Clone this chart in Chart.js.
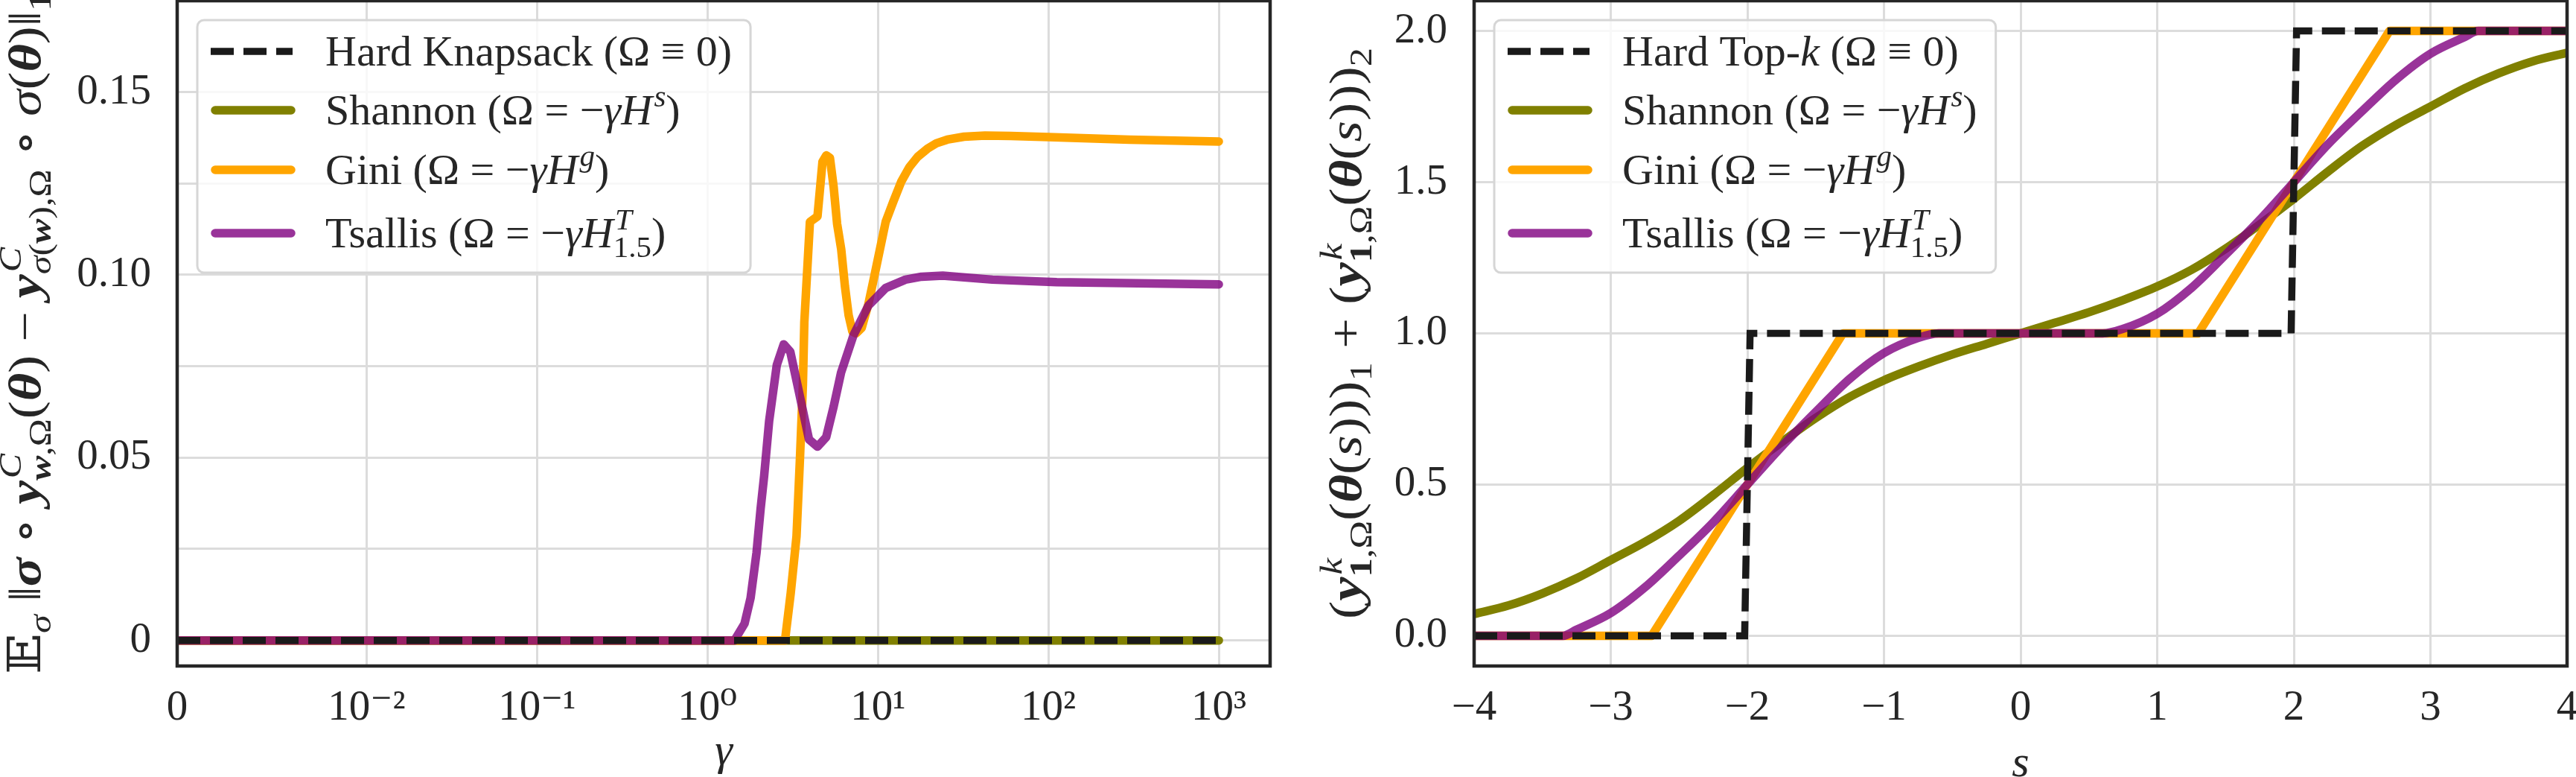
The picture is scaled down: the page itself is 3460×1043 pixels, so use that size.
<!DOCTYPE html>
<html>
<head>
<meta charset="utf-8">
<script src="https://cdn.jsdelivr.net/npm/chart.js@4.4.1/dist/chart.umd.min.js"></script>
<style>
html,body{margin:0;padding:0;background:#fff;width:3460px;height:1043px;overflow:hidden}
#wrap{position:relative;width:3460px;height:1043px;background:#fff}
canvas{position:absolute;top:0}
#cL{left:0;width:1720px;height:1043px}
#cR{left:1720px;width:1740px;height:1043px}
</style>
</head>
<body>
<div id="wrap">
<canvas id="cL" width="1720" height="1043"></canvas>
<canvas id="cR" width="1740" height="1043"></canvas>
</div>
<script>
// ================= DATA =================
// Left panel: symlog gamma axis
const gammaTicks = [0, 0.01, 0.1, 1, 10, 100, 1000];
const gammaTickLabels = ['0', '10\u207B\u00B2', '10\u207B\u00B9', '10\u2070', '10\u00B9', '10\u00B2', '10\u00B3'];
const errTicks = [0, 0.025, 0.05, 0.075, 0.1, 0.125, 0.15];
const errTickLabels = ['0', '', '0.05', '', '0.10', '', '0.15'];

const knapHardGamma = [0, 1000];
const knapHardErr = [0, 0];
const knapShannonGamma = [0, 1000];
const knapShannonErr = [0, 0];
const knapGiniGamma = [0, 2.85, 3.08, 3.33, 3.49, 3.63, 3.70, 3.99, 4.42, 4.73, 4.98, 5.23, 5.5, 5.76, 6.09, 6.4, 6.73, 7.08, 7.45, 8.03, 8.79, 9.6, 11.1, 12.3, 13.7, 15.3, 17.1, 19.5, 22, 25.5, 32, 42.5, 60, 100, 300, 1000];
const knapGiniErr = [0, 0, 0.013, 0.0285, 0.05, 0.07, 0.087, 0.1145, 0.116, 0.131, 0.1327, 0.132, 0.124, 0.114, 0.107, 0.097, 0.089, 0.0845, 0.084, 0.0855, 0.092, 0.1004, 0.1145, 0.1200, 0.1255, 0.1295, 0.1323, 0.1345, 0.1360, 0.1370, 0.1378, 0.1381, 0.1380, 0.1377, 0.137, 0.1365];
const knapTsallisGamma = [0, 1.44, 1.65, 1.79, 1.94, 2.05, 2.15, 2.30, 2.55, 2.80, 3.06, 3.44, 3.94, 4.42, 4.97, 5.5, 6.08, 7.19, 8.79, 11.1, 14.5, 18, 24, 47, 112, 1000];
const knapTsallisErr = [0, 0, 0.0046, 0.0116, 0.024, 0.036, 0.045, 0.06, 0.0753, 0.081, 0.079, 0.068, 0.055, 0.053, 0.0556, 0.064, 0.0733, 0.0835, 0.0916, 0.0964, 0.0987, 0.0995, 0.0998, 0.0987, 0.098, 0.0974];

// Right panel: s axis
const sTicks = [-4, -3, -2, -1, 0, 1, 2, 3, 4];
const sTickLabels = ['\u22124', '\u22123', '\u22122', '\u22121', '0', '1', '2', '3', '4'];
const topkTicks = [0, 0.5, 1, 1.5, 2];
const topkTickLabels = ['0.0', '0.5', '1.0', '1.5', '2.0'];

const topkHardS = [-4, -2.02, -1.98, 1.98, 2.02, 4];
const topkHardVal = [0, 0, 1, 1, 2, 2];
const topkShannonS = [-4, -3.75, -3.5, -3.25, -3, -2.75, -2.5, -2.25, -2, -1.75, -1.5, -1.25, -1, -0.75, -0.5, -0.25, 0, 0.25, 0.5, 0.75, 1, 1.25, 1.5, 1.75, 2, 2.25, 2.5, 2.75, 3, 3.25, 3.5, 3.75, 4];
const topkShannonVal = [0.072, 0.1, 0.14, 0.19, 0.25, 0.31, 0.38, 0.465, 0.555, 0.64, 0.72, 0.79, 0.845, 0.89, 0.93, 0.965, 1.0, 1.035, 1.07, 1.11, 1.155, 1.21, 1.28, 1.36, 1.445, 1.535, 1.62, 1.69, 1.75, 1.81, 1.86, 1.9, 1.928];
const topkGiniS = [-4, -2.7, -1.3, 1.3, 2.7, 4];
const topkGiniVal = [0, 0, 1, 1, 2, 2];
const topkTsallisS = [-4, -3.35, -3.25, -3, -2.75, -2.5, -2.25, -2, -1.75, -1.5, -1.25, -1, -0.75, -0.6, 0.6, 0.75, 1, 1.25, 1.5, 1.75, 2, 2.25, 2.5, 2.75, 3, 3.25, 3.35, 4];
const topkTsallisVal = [0, 0, 0.02, 0.075, 0.16, 0.265, 0.375, 0.5, 0.625, 0.74, 0.85, 0.935, 0.985, 1, 1, 1.015, 1.065, 1.15, 1.26, 1.375, 1.5, 1.625, 1.735, 1.84, 1.925, 1.98, 2, 2];

const knapLabels = ['Hard Knapsack (\u03A9 \u2261 0)', 'Shannon (\u03A9 = \u2212\u03B3H\u02E2)', 'Gini (\u03A9 = \u2212\u03B3H\u1D4D)', 'Tsallis (\u03A9 = \u2212\u03B3H\u1D40\u2081.\u2085)'];
const topkLabels = ['Hard Top-k (\u03A9 \u2261 0)', 'Shannon (\u03A9 = \u2212\u03B3H\u02E2)', 'Gini (\u03A9 = \u2212\u03B3H\u1D4D)', 'Tsallis (\u03A9 = \u2212\u03B3H\u1D40\u2081.\u2085)'];

// ================= STYLE =================
const SERIF = '"Liberation Serif","DejaVu Serif","DejaVu Sans",serif';
const INK = '#262626';
const FS = 57;
const LFS = 58;
const C_HARD = '#1a1a1a', C_SHAN = '#808000', C_GINI = '#FFA500', C_TSAL = 'rgba(128,0,128,0.8)';

// rich text: [text, style(r|i|b|br), pos(''|sup|supS|sub)]
const knapRich = [
  [['Hard Knapsack (\u03A9 \u2261 0)', 'r']],
  [['Shannon (\u03A9 = \u2212', 'r'], ['\u03B3H', 'i'], ['s', 'i', 'sup'], [')', 'r']],
  [['Gini (\u03A9 = \u2212', 'r'], ['\u03B3H', 'i'], ['g', 'i', 'sup'], [')', 'r']],
  [['Tsallis (\u03A9 = \u2212', 'r'], ['\u03B3H', 'i'], ['T', 'i', 'supS'], ['1.5', 'r', 'sub'], [')', 'r']]
];
const topkRich = [
  [['Hard Top-', 'r'], ['k', 'i'], [' (\u03A9 \u2261 0)', 'r']],
  knapRich[1], knapRich[2], knapRich[3]
];
const errTitle = [
  ['\uD835\uDD3C', 'r'], ['\u03C3', 'i', 'sub'], [' \u2016', 'r'], ['\u03C3', 'b'], [' \u2218 ', 'r'], ['y', 'b'], ['C', 'i', 'supS'], ['w', 'b', 'sub'], [',\u03A9', 'r', 'sub'],
  ['(', 'r'], ['\u03B8', 'b'], [') \u2212 ', 'r'], ['y', 'b'], ['C', 'i', 'supS'], ['\u03C3', 'i', 'sub'], ['(', 'r', 'sub'], ['w', 'b', 'sub'], ['),\u03A9', 'r', 'sub'],
  [' \u2218 ', 'r'], ['\u03C3', 'i'], ['(', 'r'], ['\u03B8', 'b'], [')\u2016', 'r'], ['1', 'r', 'sub']
];
const topkTitle = [
  ['(', 'r'], ['y', 'b'], ['k', 'i', 'supS'], ['1', 'br', 'sub'], [',\u03A9', 'r', 'sub'], ['(', 'r'], ['\u03B8', 'b'], ['(', 'r'], ['s', 'i'], [')))', 'r'], ['1', 'r', 'sub'],
  [' + ', 'r'], ['(', 'r'], ['y', 'b'], ['k', 'i', 'supS'], ['1', 'br', 'sub'], [',\u03A9', 'r', 'sub'], ['(', 'r'], ['\u03B8', 'b'], ['(', 'r'], ['s', 'i'], [')))', 'r'], ['2', 'r', 'sub']
];

// ================= SYMLOG SCALE =================
class SymlogScale extends Chart.Scale {
  constructor(cfg) { super(cfg); this._t0 = 0; this._t1 = 1; }
  parse(raw) { const v = +raw; return isFinite(v) ? v : null; }
  _c() { return this.options.linthresh || 0.01; }
  _fwd(v) { const c = this._c(), k = 1 / (1 - 1 / 10), a = Math.abs(v); const t = a <= c ? a / c * k : k + Math.log10(a / c); return v < 0 ? -t : t; }
  _inv(t) { const c = this._c(), k = 1 / (1 - 1 / 10), a = Math.abs(t); const v = a <= k ? a / k * c : c * Math.pow(10, a - k); return t < 0 ? -v : v; }
  determineDataLimits() { this.min = this.options.min; this.max = this.options.max; }
  buildTicks() { return []; }
  configure() { super.configure(); this._t0 = this._fwd(this.min); this._t1 = this._fwd(this.max); }
  getPixelForValue(v) { return this.getPixelForDecimal((this._fwd(v) - this._t0) / (this._t1 - this._t0)); }
  getValueForPixel(p) { return this._inv(this._t0 + this.getDecimalForPixel(p) * (this._t1 - this._t0)); }
  getLabelForValue(v) { return String(v); }
}
SymlogScale.id = 'symlog';
SymlogScale.defaults = {};
Chart.register(SymlogScale);

// ================= RICH TEXT =================
function segFont(style, px) {
  const st = style === 'i' ? 'italic ' : style === 'b' ? 'italic bold ' : style === 'br' ? 'bold ' : '';
  return st + px + 'px ' + SERIF;
}
function layoutRich(ctx, segs, size) {
  let x = 0, stackEnd = null; const out = [];
  for (const [t, style, pos] of segs) {
    const px = Math.round(size * (pos ? 0.7 : 1));
    const font = segFont(style, px);
    ctx.font = font;
    const w = ctx.measureText(t).width;
    if (pos !== 'sub' && pos !== 'supS' && stackEnd !== null) { x = Math.max(x, stackEnd); stackEnd = null; }
    const dy = (pos === 'sup' || pos === 'supS') ? -0.42 * size : pos === 'sub' ? 0.22 * size : 0;
    const dx = (pos === 'sup' || pos === 'supS') ? 0.04 * size : 0;
    out.push({ t, font, x: x + dx, dy });
    if (pos === 'supS') stackEnd = x + dx + w; else x += w + dx;
  }
  if (stackEnd !== null) x = Math.max(x, stackEnd);
  return { items: out, width: x };
}
function drawRich(ctx, segs, size, x, y, align, targetLen) {
  const L = layoutRich(ctx, segs, size);
  const sx = targetLen ? targetLen / L.width : 1;
  ctx.save();
  ctx.translate(x, y);
  ctx.scale(sx, 1);
  const x0 = align === 'center' ? -L.width / 2 : 0;
  ctx.textBaseline = 'alphabetic'; ctx.textAlign = 'left';
  for (const it of L.items) { ctx.font = it.font; ctx.fillText(it.t, x0 + it.x, it.dy); }
  ctx.restore();
  return L.width * sx;
}

function makeDecor(cfg) {
  return {
    id: 'decor',
    afterDraw(chart) {
      const ctx = chart.ctx, a = chart.chartArea;
      ctx.save();
      // frame
      ctx.setLineDash([]);
      ctx.lineWidth = 4.5; ctx.strokeStyle = INK;
      ctx.strokeRect(a.left, a.top, a.right - a.left, a.bottom - a.top);
      // legend
      const rows = [42, 121, 201, 286];
      const bx = a.left + 27, by = a.top + 26;
      let maxW = 0;
      cfg.legend.forEach(r => { maxW = Math.max(maxW, layoutRich(ctx, r, LFS).width); });
      const bw = 172 + maxW + 25, bh = 339;
      ctx.beginPath(); ctx.roundRect(bx, by, bw, bh, 9);
      ctx.fillStyle = 'rgba(255,255,255,0.8)'; ctx.fill();
      ctx.lineWidth = 3; ctx.strokeStyle = '#d6d6d6'; ctx.stroke();
      chart.data.datasets.forEach((ds, i) => {
        const yc = by + rows[i];
        ctx.beginPath(); ctx.strokeStyle = ds.borderColor; ctx.lineWidth = ds.borderWidth;
        if (ds.borderDash && ds.borderDash.length) {
          ctx.setLineDash(ds.borderDash); ctx.lineCap = 'butt';
          ctx.moveTo(bx + 18, yc); ctx.lineTo(bx + 128, yc);
        } else {
          ctx.setLineDash([]); ctx.lineCap = 'round';
          ctx.moveTo(bx + 24, yc); ctx.lineTo(bx + 126, yc);
        }
        ctx.stroke();
        ctx.setLineDash([]);
        ctx.fillStyle = INK;
        drawRich(ctx, cfg.legend[i], LFS, bx + 172, yc + 19, 'left');
      });
      // y title (rotated)
      ctx.save();
      ctx.translate(cfg.yTitleX, (a.top + a.bottom) / 2);
      ctx.rotate(-Math.PI / 2);
      ctx.fillStyle = INK;
      drawRich(ctx, cfg.yTitle, cfg.yTitleSize, 0, 0, 'center', cfg.yTitleLen);
      ctx.restore();
      // x title
      ctx.fillStyle = INK;
      drawRich(ctx, cfg.xTitle, 60, (a.left + a.right) / 2, cfg.xTitleY, 'center');
      ctx.restore();
    }
  };
}

function pts(xs, ys) { return xs.map((x, i) => ({ x, y: ys[i] })); }
function lineDs(label, xs, ys, color, order, extra) {
  return Object.assign({
    label, data: pts(xs, ys), borderColor: color, backgroundColor: color,
    borderWidth: 11.5, pointRadius: 0, pointHoverRadius: 0, fill: false, tension: 0,
    borderCapStyle: 'round', borderJoinStyle: 'round', order
  }, extra || {});
}
const dashExtra = { borderWidth: 9.5, borderDash: [31, 13], borderCapStyle: 'butt', borderJoinStyle: 'miter' };

Chart.defaults.font.family = SERIF;
Chart.defaults.color = INK;

const gridCfg = { color: '#dcdcdc', lineWidth: 3, drawTicks: false };
const tickFont = { family: SERIF, size: FS };
const fitX = s => { s.height = 149; s.paddingLeft = 0; s.paddingRight = 0; };
const fitY = w => s => { s.width = w; s.paddingTop = 0; s.paddingBottom = 0; };

// ---------------- LEFT CHART ----------------
new Chart(document.getElementById('cL'), {
  type: 'line',
  data: {
    datasets: [
      lineDs(knapLabels[0], knapHardGamma, knapHardErr, C_HARD, 0, dashExtra),
      lineDs(knapLabels[1], knapShannonGamma, knapShannonErr, C_SHAN, 3),
      lineDs(knapLabels[2], knapGiniGamma, knapGiniErr, C_GINI, 2),
      lineDs(knapLabels[3], knapTsallisGamma, knapTsallisErr, C_TSAL, 1)
    ]
  },
  options: {
    responsive: false, animation: false, devicePixelRatio: 1,
    layout: { padding: { left: 0, right: 14, top: 1, bottom: 0 } },
    plugins: { legend: { display: false }, tooltip: { enabled: false } },
    scales: {
      x: {
        type: 'symlog', min: 0, max: 2000, linthresh: 0.01,
        afterBuildTicks: s => { s.ticks = gammaTicks.map(v => ({ value: v })); },
        afterFit: fitX,
        ticks: { callback: (v, i) => gammaTickLabels[i], font: tickFont, color: INK, padding: 23, maxRotation: 0, autoSkip: false },
        grid: gridCfg, border: { display: false }
      },
      y: {
        type: 'linear', min: -0.007, max: 0.175,
        afterBuildTicks: s => { s.ticks = errTicks.map(v => ({ value: v })); },
        afterFit: fitY(238),
        ticks: { callback: (v, i) => errTickLabels[i], font: tickFont, color: INK, padding: 35 },
        grid: gridCfg, border: { display: false }
      }
    }
  },
  plugins: [makeDecor({ legend: knapRich, yTitle: errTitle, yTitleX: 54, yTitleSize: 62, yTitleLen: 915, xTitle: [['\u03B3', 'i']], xTitleY: 1026 })]
});

// ---------------- RIGHT CHART ----------------
new Chart(document.getElementById('cR'), {
  type: 'line',
  data: {
    datasets: [
      lineDs(topkLabels[0], topkHardS, topkHardVal, C_HARD, 0, dashExtra),
      lineDs(topkLabels[1], topkShannonS, topkShannonVal, C_SHAN, 3, { cubicInterpolationMode: 'monotone' }),
      lineDs(topkLabels[2], topkGiniS, topkGiniVal, C_GINI, 2),
      lineDs(topkLabels[3], topkTsallisS, topkTsallisVal, C_TSAL, 1, { cubicInterpolationMode: 'monotone' })
    ]
  },
  options: {
    responsive: false, animation: false, devicePixelRatio: 1,
    layout: { padding: { left: 0, right: 12, top: 1, bottom: 0 } },
    plugins: { legend: { display: false }, tooltip: { enabled: false } },
    scales: {
      x: {
        type: 'linear', min: -4, max: 4,
        afterBuildTicks: s => { s.ticks = sTicks.map(v => ({ value: v })); },
        afterFit: fitX,
        ticks: { callback: (v, i) => sTickLabels[i], font: tickFont, color: INK, padding: 23, maxRotation: 0, autoSkip: false },
        grid: gridCfg, border: { display: false }
      },
      y: {
        type: 'linear', min: -0.1, max: 2.1,
        afterBuildTicks: s => { s.ticks = topkTicks.map(v => ({ value: v })); },
        afterFit: fitY(260),
        ticks: { callback: (v, i) => topkTickLabels[i], font: tickFont, color: INK, padding: 36 },
        grid: gridCfg, border: { display: false }
      }
    }
  },
  plugins: [makeDecor({ legend: topkRich, yTitle: topkTitle, yTitleX: 108, yTitleSize: 62, yTitleLen: 767, xTitle: [['s', 'i']], xTitleY: 1042 })]
});
</script>
</body>
</html>
